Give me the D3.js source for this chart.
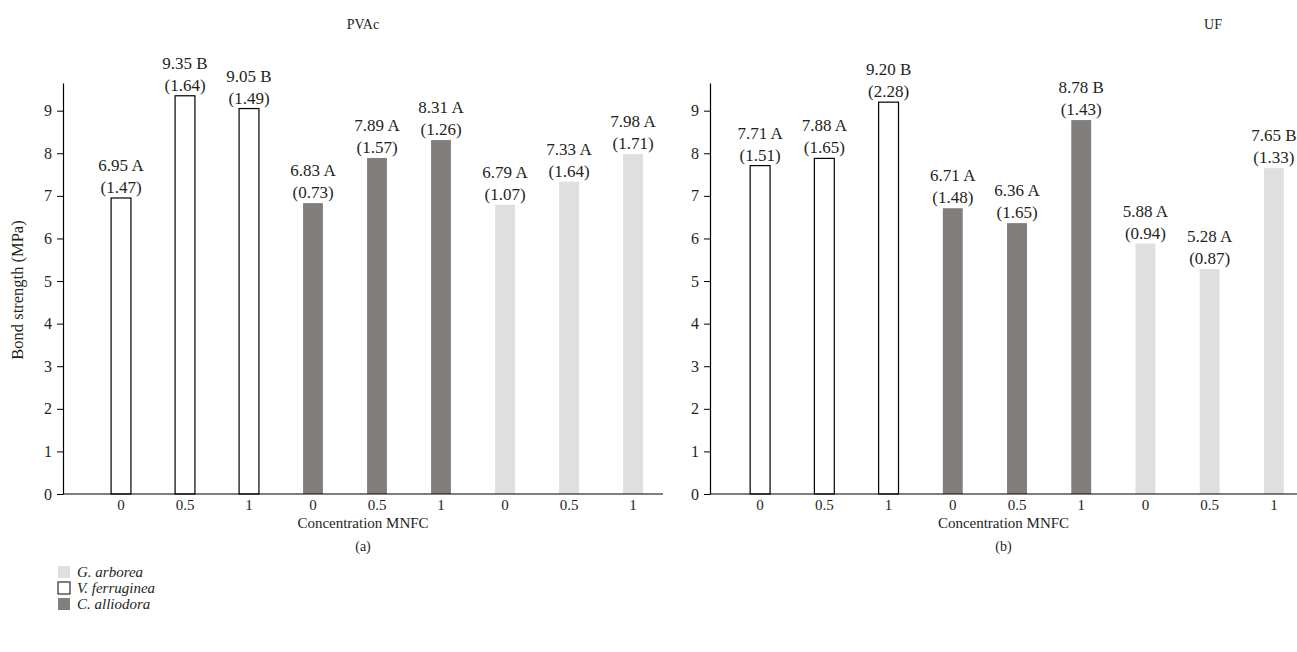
<!DOCTYPE html>
<html>
<head>
<meta charset="utf-8">
<title>Bond strength</title>
<script src="https://d3js.org/d3.v7.min.js"></script>
<style>
  body { margin: 0; background: #fff; }
  text { font-family: "Liberation Serif", "DejaVu Serif", serif; fill: #231f20; }
</style>
</head>
<body>
<div id="chart"></div>
<script>
// bar categories (MNFC concentration) and species of each bar
var concentrations = ["0", "0.5", "1", "0", "0.5", "1", "0", "0.5", "1"];
var barSpecies = ["V", "V", "V", "C", "C", "C", "G", "G", "G"];

// PVAc adhesive
var pvacMeans = [6.95, 9.35, 9.05, 6.83, 7.89, 8.31, 6.79, 7.33, 7.98];
var pvacSD = ["1.47", "1.64", "1.49", "0.73", "1.57", "1.26", "1.07", "1.64", "1.71"];
var pvacGroups = ["A", "B", "B", "A", "A", "A", "A", "A", "A"];

// UF adhesive
var ufMeans = [7.71, 7.88, 9.20, 6.71, 6.36, 8.78, 5.88, 5.28, 7.65];
var ufSD = ["1.51", "1.65", "2.28", "1.48", "1.65", "1.43", "0.94", "0.87", "1.33"];
var ufGroups = ["A", "A", "B", "A", "A", "B", "A", "A", "B"];

var yTicks = [0, 1, 2, 3, 4, 5, 6, 7, 8, 9];

var legendKeys = ["G", "V", "C"];
var legendNames = ["G. arborea", "V. ferruginea", "C. alliodora"];

var fills = { V: "#ffffff", C: "#827e7b", G: "#e0dfe0" };
var strokes = { V: "#000000", C: "none", G: "none" };

var width = 1297, height = 652;

var svg = d3.select("#chart").append("svg")
    .attr("width", width)
    .attr("height", height);

function drawPanel(p) {
    var y = d3.scaleLinear().domain([0, 9.65]).range([p.y0, 83]);
    var x = d3.scaleBand()
        .domain(d3.range(concentrations.length))
        .range([p.bandL, p.bandR])
        .paddingInner(0.69)
        .paddingOuter(0.345);

    var g = svg.append("g");

    // bars
    g.selectAll("rect.bar")
        .data(p.means)
        .enter().append("rect")
        .attr("class", "bar")
        .attr("x", function(d, i) { return x(i); })
        .attr("width", x.bandwidth())
        .attr("y", function(d) { return y(d); })
        .attr("height", function(d) { return p.y0 - y(d); })
        .attr("fill", function(d, i) { return fills[barSpecies[i]]; })
        .attr("stroke", function(d, i) { return strokes[barSpecies[i]]; })
        .attr("stroke-width", 1.2);

    // value labels
    var lab = g.selectAll("g.lab")
        .data(p.means)
        .enter().append("g")
        .attr("class", "lab")
        .attr("transform", function(d, i) {
            return "translate(" + (x(i) + x.bandwidth() / 2) + "," + y(d) + ")";
        });
    lab.append("text")
        .attr("text-anchor", "middle")
        .attr("y", -27)
        .style("font-size", "17px")
        .text(function(d, i) { return d.toFixed(2) + " " + p.groups[i]; });
    lab.append("text")
        .attr("text-anchor", "middle")
        .attr("y", -5)
        .style("font-size", "17px")
        .text(function(d, i) { return "(" + p.sd[i] + ")"; });

    // y axis
    var ya = g.append("g")
        .attr("transform", "translate(" + p.axisX + ",0)")
        .call(d3.axisLeft(y).tickValues(yTicks).tickSize(6).tickPadding(5).tickSizeOuter(0));
    ya.select(".domain").attr("stroke", "#000").attr("stroke-width", 1.2);
    ya.selectAll(".tick line").attr("stroke", "#000");
    ya.selectAll(".tick text").style("font-size", "16px").style("font-family", "Liberation Serif, serif").attr("fill", "#231f20");

    // x axis
    var xa = g.append("g")
        .attr("transform", "translate(0," + p.y0 + ")")
        .call(d3.axisBottom(x).tickSize(0).tickPadding(5).tickFormat(function(i) { return concentrations[i]; }));
    xa.select(".domain").remove();
    xa.selectAll(".tick text").style("font-size", "15px").style("font-family", "Liberation Serif, serif").attr("fill", "#231f20");
    g.append("line")
        .attr("x1", p.axisX).attr("x2", p.axisEnd)
        .attr("y1", p.y0).attr("y2", p.y0)
        .attr("stroke", "#000").attr("stroke-width", 1.2);

    // titles
    g.append("text")
        .attr("x", p.titleX).attr("y", 29)
        .attr("text-anchor", "middle")
        .style("font-size", "14px")
        .text(p.title);
    g.append("text")
        .attr("x", (p.axisX + p.axisEnd) / 2).attr("y", 528)
        .attr("text-anchor", "middle")
        .style("font-size", "15px")
        .text("Concentration MNFC");
    g.append("text")
        .attr("x", (p.axisX + p.axisEnd) / 2).attr("y", 551)
        .attr("text-anchor", "middle")
        .style("font-size", "14px")
        .text(p.tag);
}

drawPanel({ title: "PVAc", tag: "(a)", means: pvacMeans, sd: pvacSD, groups: pvacGroups,
    axisX: 63, axisEnd: 663, bandL: 89, bandR: 665, y0: 494, titleX: 363 });
drawPanel({ title: "UF", tag: "(b)", means: ufMeans, sd: ufSD, groups: ufGroups,
    axisX: 710, axisEnd: 1297, bandL: 728, bandR: 1306, y0: 494, titleX: 1213 });

// y axis label
svg.append("text")
    .attr("transform", "translate(23,290) rotate(-90)")
    .attr("text-anchor", "middle")
    .style("font-size", "16.5px")
    .text("Bond strength (MPa)");

// legend
var leg = svg.selectAll("g.leg")
    .data(legendKeys)
    .enter().append("g")
    .attr("class", "leg")
    .attr("transform", function(d, i) { return "translate(58," + (566 + i * 16) + ")"; });
leg.append("rect")
    .attr("width", 12).attr("height", 12)
    .attr("fill", function(d) { return fills[d]; })
    .attr("stroke", function(d) { return strokes[d]; })
    .attr("stroke-width", 1);
leg.append("text")
    .attr("x", 19).attr("y", 11)
    .style("font-size", "15px")
    .style("font-style", "italic")
    .text(function(d, i) { return legendNames[i]; });
</script>
</body>
</html>
